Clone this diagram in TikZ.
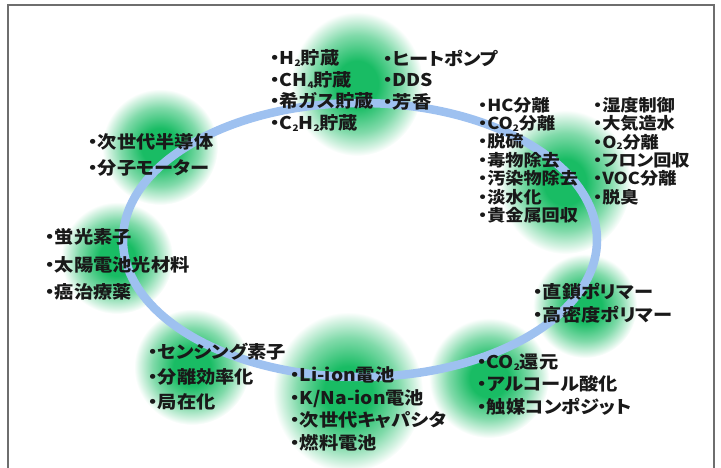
\documentclass[tikz,border=0pt]{standalone}
\usepackage{fontspec}
\newfontfamily\jp{Noto Sans CJK JP}[FakeStretch=1.1,RawFeature=+palt]
\definecolor{bandblue}{RGB}{158,193,240}
\definecolor{gA}{RGB}{25,188,100}
\colorlet{gB}{gA!55!white}
\colorlet{gC}{gA!18!white}
\definecolor{framegray}{RGB}{110,110,110}
\pgfdeclareradialshading{blob}{\pgfpoint{0bp}{0bp}}{color(0bp)=(gA); color(8bp)=(gA); color(17bp)=(gB); color(22.5bp)=(gC); color(25bp)=(white); color(50bp)=(white)}
\newcommand\mysub[1]{\raisebox{-0.2ex}{\fontsize{9}{9}\selectfont #1}}
\tikzset{
  txt/.style={anchor=west, align=left, inner sep=0pt, text=black!90,
    font=\jp\bfseries\fontsize{17.5}{#1}\selectfont},
  txtsm/.style={anchor=west, align=left, inner sep=0pt, text=black!90,
    font=\jp\bfseries\fontsize{16.5}{#1}\selectfont}
}
\tikzset{blobfill/.style={shading=blob}}
\begin{document}
\begin{tikzpicture}[x=1pt,y=-1pt]
\useasboundingbox (0,0) rectangle (721,468);
% frame
\draw[framegray, line width=1.5pt] (8,468) -- (8,5) -- (714,5) -- (714,468);
% blobs
\shade[blobfill] (357,84) ellipse [x radius=66pt, y radius=72pt];
\shade[blobfill] (565,182) ellipse [x radius=66pt, y radius=72pt];
\shade[blobfill] (160,147) circle [radius=58pt];
\shade[blobfill] (117,258) circle [radius=56pt];
\shade[blobfill] (192,367) circle [radius=58pt];
\shade[blobfill] (348,392) ellipse [x radius=75pt, y radius=80pt];
\shade[blobfill] (585,306) circle [radius=52pt];
\shade[blobfill] (489,378) circle [radius=60pt];
% ring
\draw[bandblue, line width=8.5pt] (360,240) ellipse [x radius=237pt, y radius=137pt];
% texts
\node[txt=21.7] (topL) at (270,90.5) {・H\mysub{2}貯蔵\\・CH\mysub{4}貯蔵\\・希ガス貯蔵\\・C\mysub{2}H\mysub{2}貯蔵};
\node[txt=21.7] (topR) at (383,80) {・ヒートポンプ\\・DDS\\・芳香};
\node[txtsm=18.4] (sepL) at (478,160) {・HC分離\\・CO\mysub{2}分離\\・脱硫\\・毒物除去\\・汚染物除去\\・淡水化\\・貴金属回収};
\node[txtsm=18.4] (sepR) at (593,151) {・湿度制御\\・大気造水\\・O\mysub{2}分離\\・フロン回収\\・VOC分離\\・脱臭};
\node[txt=26] (semi) at (88,155) {・次世代半導体\\・分子モーター};
\node[txt=27.5] (fluo) at (45,264.5) {・蛍光素子\\・太陽電池光材料\\・癌治療薬};
\node[txt=25] (sens) at (148,377) {・センシング素子\\・分離効率化\\・局在化};
\node[txt=22.7] (batt) at (290,409) {・Li-ion電池\\・K/Na-ion電池\\・次世代キャパシタ\\・燃料電池};
\node[txt=23] (poly) at (533,303.5) {・直鎖ポリマー\\・高密度ポリマー};
\node[txt=22.5] (cata) at (477,384.5) {・CO\mysub{2}還元\\・アルコール酸化\\・触媒コンポジット};
\end{tikzpicture}
\end{document}
